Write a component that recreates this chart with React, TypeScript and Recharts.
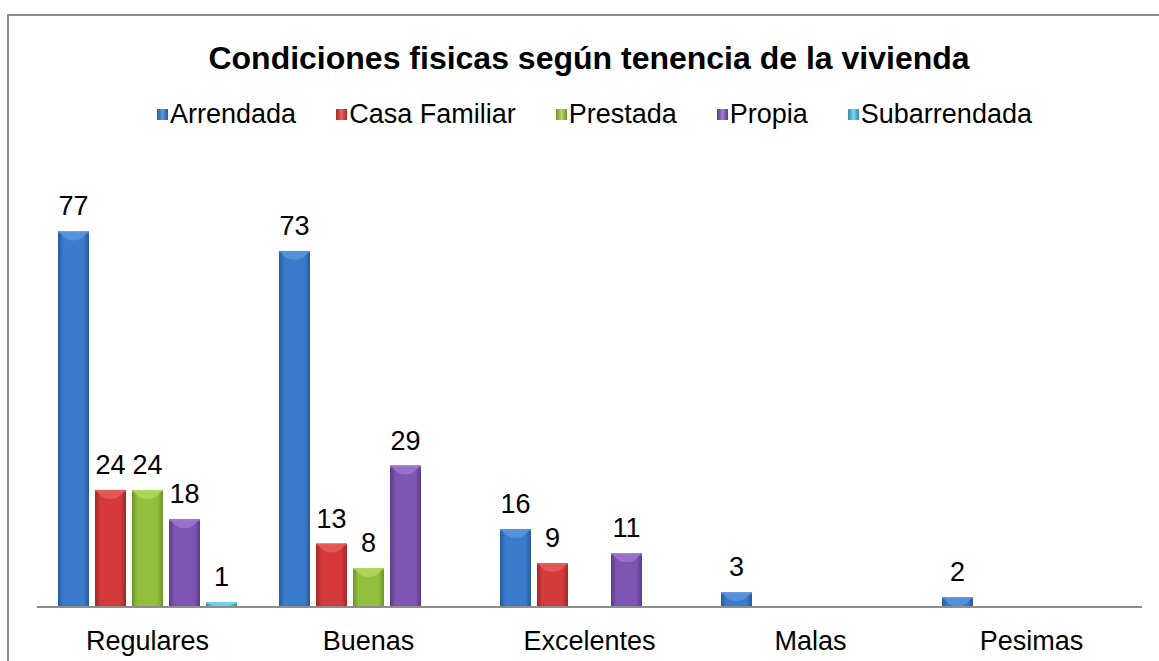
import { BarChart, Bar, XAxis, YAxis } from 'recharts'

const categorias = ['Regulares', 'Buenas', 'Excelentes', 'Malas', 'Pesimas']
const arrendada = [77, 73, 16, 3, 2]
const casaFamiliar = [24, 13, 9, null, null]
const prestada = [24, 8, null, null, null]
const propia = [18, 29, 11, null, null]
const subarrendada = [1, null, null, null, null]

const series = [
  { key: 'arrendada', nombre: 'Arrendada', base: '#3b7bcc', oscuro: '#265a9c', claro: '#5c98e0' },
  { key: 'casaFamiliar', nombre: 'Casa Familiar', base: '#d43a3a', oscuro: '#a42727', claro: '#e86060' },
  { key: 'prestada', nombre: 'Prestada', base: '#94bf3c', oscuro: '#6d952a', claro: '#b4d964' },
  { key: 'propia', nombre: 'Propia', base: '#7f55b4', oscuro: '#5b3a88', claro: '#a07ad0' },
  { key: 'subarrendada', nombre: 'Subarrendada', base: '#3fbadb', oscuro: '#2a8fab', claro: '#7ad6ee' },
]

const datos = categorias.map((c, i) => ({
  categoria: c,
  arrendada: arrendada[i],
  casaFamiliar: casaFamiliar[i],
  prestada: prestada[i],
  propia: propia[i],
  subarrendada: subarrendada[i],
}))

const FUENTE = '"Liberation Sans", Arial, sans-serif'

// Barra con aspecto "cilíndrico": degradado horizontal + brillo en la tapa.
function BarraForma(props: any) {
  const { x, y, width, height, idx } = props
  if (height == null || height <= 0) return null
  const capa = Math.min(9, height)
  const cx = x + width / 2
  return (
    <g>
      <rect x={x} y={y} width={width} height={height} fill={`url(#grad-${idx})`} />
      <path
        d={`M${x + 1},${y} L${x + width - 1},${y} Q${cx + width * 0.3},${y + capa} ${cx},${y + capa} Q${cx - width * 0.3},${y + capa} ${x + 1},${y} Z`}
        fill={series[idx].claro}
        opacity={0.75}
      />
      <rect x={x} y={y} width={width} height={Math.min(2, height)} fill={series[idx].claro} opacity={0.6} />
    </g>
  )
}

function etiqueta(props: any) {
  const { x, y, width, value } = props
  if (value == null) return null
  return (
    <text
      x={x + width / 2}
      y={y - 16}
      textAnchor="middle"
      fontSize={27}
      fontFamily={FUENTE}
      fill="#000"
    >
      {value}
    </text>
  )
}

function Leyenda() {
  return (
    <div
      style={{
        display: 'flex',
        justifyContent: 'center',
        gap: 40,
        fontFamily: FUENTE,
        fontSize: 27,
        lineHeight: '32px',
        color: '#000',
      }}
    >
      {series.map((s) => (
        <div key={s.key} style={{ display: 'flex', alignItems: 'center' }}>
          <span
            style={{
              flex: 'none',
              width: 11,
              height: 11,
              marginRight: 2,
              background: `linear-gradient(to right, ${s.oscuro}, ${s.claro}, ${s.oscuro})`,
            }}
          />
          <span>{s.nombre}</span>
        </div>
      ))}
    </div>
  )
}

export default function App() {
  return (
    <div style={{ position: 'absolute', left: 0, top: 0, width: 1159, height: 661, background: '#fff' }}>
      <div
        style={{
          position: 'absolute',
          left: 7,
          top: 14,
          width: 1152,
          height: 647,
          borderTop: '2px solid #8a8a8a',
          borderLeft: '2px solid #8a8a8a',
        }}
      />
      <div
        style={{
          position: 'absolute',
          left: 0,
          top: 40,
          width: 1178,
          textAlign: 'center',
          fontFamily: FUENTE,
          fontWeight: 'bold',
          fontSize: 32,
          lineHeight: '37px',
          color: '#000',
        }}
      >
        Condiciones fisicas según tenencia de la vivienda
      </div>
      <div style={{ position: 'absolute', left: 0, top: 98, width: 1189 }}>
        <Leyenda />
      </div>
      <div style={{ position: 'absolute', left: 0, top: 0 }}>
        <BarChart
          width={1159}
          height={661}
          data={datos}
          margin={{ top: 168, right: 17, bottom: 0, left: 37 }}
          barSize={31}
          barGap={6}
        >
          <defs>
            {series.map((s, i) => (
              <linearGradient key={s.key} id={`grad-${i}`} x1="0" y1="0" x2="1" y2="0">
                <stop offset="0%" stopColor={s.oscuro} />
                <stop offset="18%" stopColor={s.base} />
                <stop offset="50%" stopColor={s.base} />
                <stop offset="82%" stopColor={s.base} />
                <stop offset="100%" stopColor={s.oscuro} />
              </linearGradient>
            ))}
          </defs>
          <XAxis
            dataKey="categoria"
            height={54}
            tickLine={false}
            axisLine={{ stroke: '#8e8e8e', strokeWidth: 2 }}
            tickMargin={18}
            tick={{ fontSize: 27, fontFamily: FUENTE, fill: '#000' }}
          />
          <YAxis hide domain={[0, 90]} />
          {series.map((s, i) => (
            <Bar
              key={s.key}
              dataKey={s.key}
              name={s.nombre}
              fill={s.base}
              isAnimationActive={false}
              shape={(p: any) => <BarraForma {...p} idx={i} />}
              label={etiqueta}
            />
          ))}
        </BarChart>
      </div>
    </div>
  )
}
